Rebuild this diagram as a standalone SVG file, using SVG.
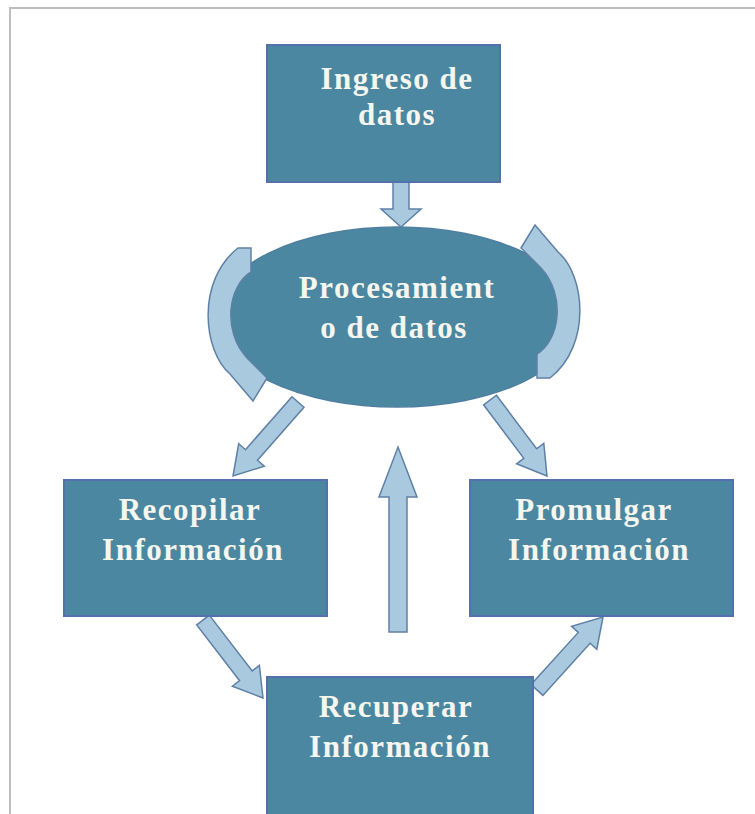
<svg xmlns="http://www.w3.org/2000/svg" width="755" height="814" viewBox="0 0 755 814">
<style>
.box{fill:#4b87a1;stroke:#5470ad;stroke-width:2}
.arr{fill:#a9c9de;stroke:#5f80a6;stroke-width:1.5;stroke-linejoin:miter}
.t{font-family:"Liberation Serif","Times New Roman",serif;font-weight:bold;font-size:31px;fill:#f4f6ef;text-anchor:middle;letter-spacing:1.5px}
</style>
<rect x="0" y="0" width="755" height="814" fill="#ffffff"/>
<rect x="10" y="8" width="800" height="900" fill="none" stroke="#bdbdbd" stroke-width="2"/>
<g id="connectors">
<polygon class="arr" points="393,182 409,182 409,209 421,209 401,227 381,209 393,209"/>
<polygon class="arr" points="292,396.7 245.5,449.7 238.7,443.8 233,476 264.3,466.2 257.5,460.3 304,407.3"/>
<polygon class="arr" points="496.4,395.2 536.6,448.8 543.8,443.4 547,476 516.6,463.8 523.8,458.4 483.6,404.8"/>
<polygon class="arr" points="209.3,615.1 252.2,670.9 259.4,665.4 263,698 232.4,686.2 239.6,680.7 196.7,624.9"/>
<polygon class="arr" points="531.1,684.6 578.3,632.4 571.6,626.4 603,617 596.8,649.2 590.1,643.2 542.9,695.4"/>
<polygon class="arr" points="389,632 407,632 407,497 417,497 398,447 379,497 389,497"/>
</g>
<g id="ingreso">
<rect class="box" x="267" y="45" width="233" height="137"/>
<text class="t" x="397" y="89">Ingreso de</text>
<text class="t" x="397" y="125">datos</text>
</g>
<g id="procesamiento">
<ellipse cx="397" cy="317" rx="182" ry="90" fill="#4b87a1" stroke="#4f7fa0" stroke-width="1.5"/>
<path class="arr" d="M535,225 L558,252 C585,275 592,345 550,378 L537,378 L537,354 C560,340 566,295 541,268 L521,248 Z"/>
<path class="arr" d="M253,401 L230,374 C203,351 196,281 238,248 L251,248 L251,272 C228,286 222,331 247,358 L267,378 Z"/>
<text class="t" x="397" y="298">Procesamient</text>
<text class="t" x="394" y="338">o de datos</text>
</g>
<g id="recopilar">
<rect class="box" x="64" y="480" width="263" height="136"/>
<text class="t" x="190" y="520">Recopilar</text>
<text class="t" x="193" y="560">Información</text>
</g>
<g id="promulgar">
<rect class="box" x="470" y="480" width="263" height="136"/>
<text class="t" x="594" y="520">Promulgar</text>
<text class="t" x="599" y="560">Información</text>
</g>
<g id="recuperar">
<rect class="box" x="267" y="677" width="266" height="160"/>
<text class="t" x="396" y="717">Recuperar</text>
<text class="t" x="400" y="757">Información</text>
</g>
</svg>
